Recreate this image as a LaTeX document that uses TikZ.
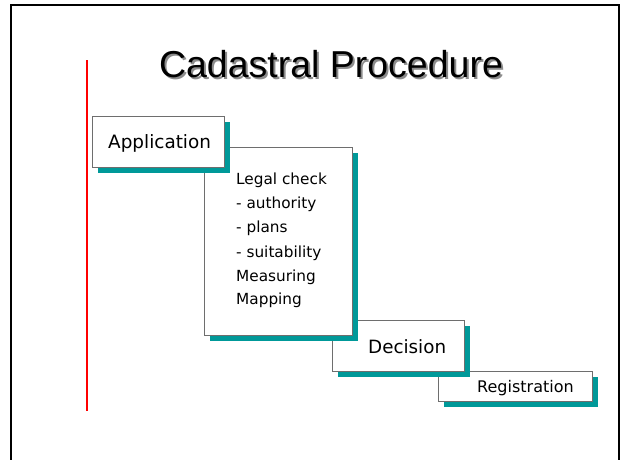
\documentclass[tikz,border=0pt]{standalone}
\usepackage{fontspec}
\setmainfont{DejaVu Sans}
\newfontfamily\titlefont{Liberation Sans}
\definecolor{shadowteal}{RGB}{0,153,153}
\definecolor{boxedge}{RGB}{110,110,110}
\tikzset{
  stepshadow/.style={fill=shadowteal, draw=none},
  stepbox/.style={fill=white, draw=boxedge, line width=1pt},
  steptext/.style={inner sep=0pt, anchor=base west, text=black},
  legaltext/.style={steptext, font=\fontsize{15.3}{18}\selectfont},
}
\newcommand{\stepblock}[5]{%
  % #1 name, #2 x1, #3 y1, #4 x2, #5 y2
  \fill[stepshadow] (#2+6,#3+6) rectangle (#4+6,#5+6);
  \draw[stepbox] (#2,#3) rectangle (#4,#5);
  \coordinate (#1-nw) at (#2,#3);
  \coordinate (#1-se) at (#4,#5);
}
\begin{document}
\begin{tikzpicture}[x=1pt,y=-1pt]
\useasboundingbox (0,0) rectangle (621,459);
\fill[white] (0,0) rectangle (621,459);
% frame
\draw[line width=2pt, black] (11,460) -- (11,5) -- (619,5) -- (619,460);
% red line
\coordinate (rtop) at (87,60);
\coordinate (rbot) at (87,411);
\draw[red, line width=2pt] (rtop) -- (rbot);
% title
\node[inner sep=0pt, anchor=base, text=black!45] at (333,79) {\titlefont\fontsize{37.5}{40}\selectfont Cadastral Procedure};
\node (title) [inner sep=0pt, anchor=base] at (331,77) {\titlefont\fontsize{37.5}{40}\selectfont Cadastral Procedure};
% boxes, drawn from back to front
\stepblock{reg}{438}{371}{592}{401}
\node (registration) [steptext] at (477,392) {\fontsize{16}{18}\selectfont Registration};
\stepblock{dec}{332}{320}{464}{371}
\node (decision) [steptext] at (368,353) {\fontsize{18.3}{20}\selectfont Decision};
\stepblock{leg}{204}{147}{352}{335}
\node (legal1) [legaltext] at (236,184) {Legal check};
\node (legal2) [legaltext] at (236,208) {- authority};
\node (legal3) [legaltext] at (236,232) {- plans};
\node (legal4) [legaltext] at (236,257) {- suitability};
\node (legal5) [legaltext] at (236,281) {Measuring};
\node (legal6) [legaltext] at (236,304) {Mapping};
\stepblock{app}{92}{116}{224}{167}
\node (application) [steptext] at (108,148) {\fontsize{18.4}{20}\selectfont Application};
\end{tikzpicture}
\end{document}
